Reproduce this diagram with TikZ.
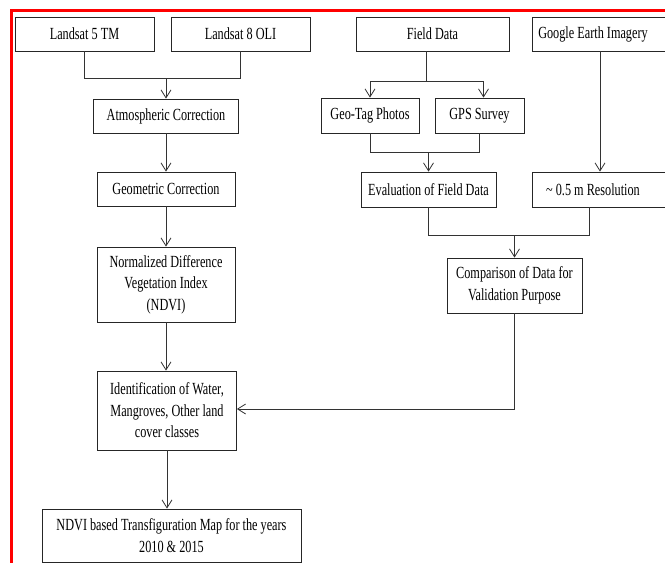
\documentclass[tikz,border=0pt]{standalone}
\usepackage{fontspec}
\setmainfont{Liberation Serif}[FakeStretch=0.72]
\usepackage{tikz}
\usetikzlibrary{shapes.geometric, arrows, arrows.meta}
\usetikzlibrary{positioning}
\tikzstyle{box} = [rectangle, minimum height=34pt, text centered, align=center, draw=black!85, line width=0.8pt, inner sep=2pt, font=\fontsize{17}{21.5}\selectfont]
\tikzstyle{arrow} = [line width=0.8pt, draw=black!80, ->, >={Straight Barb[length=8pt, width=10pt, line width=0.8pt]}]
\tikzstyle{link} = [line width=0.8pt, draw=black!80, -]
\begin{document}
\begin{tikzpicture}[x=1pt, y=1pt, node distance=80pt]
\useasboundingbox (0,0) rectangle (665,-563);
\draw [red, line width=3pt] (11.5,-570) -- (11.5,-10.5) -- (670,-10.5);
% satellite data
\node (l5) [box, minimum width=139pt] at (84.5,-34) {Landsat 5 TM};
\node (l8) [box, minimum width=139pt, node distance=156pt, right of=l5] {Landsat 8 OLI};
\node (atmos) [box, minimum width=145pt, node distance=82pt, below of=l5, xshift=81.5pt] {Atmospheric Correction};
\node (geom) [box, minimum width=138pt, node distance=73pt, below of=atmos] {Geometric Correction};
\node (ndvi) [box, minimum width=138pt, minimum height=75pt, node distance=95.5pt, below of=geom] {Normalized Difference\\Vegetation Index\\(NDVI)};
\node (ident) [box, minimum width=139pt, minimum height=79pt, node distance=126pt, below of=ndvi, xshift=1pt] {Identification of Water,\\Mangroves, Other land\\cover classes};
\node (map) [box, minimum width=259pt, minimum height=53pt, node distance=125pt, below of=ident, xshift=4.5pt] {NDVI based Transfiguration Map for the years\\2010 \& 2015};
% reference data
\node (field) [box, minimum width=153pt] at (432.5,-34) {Field Data};
\node (google) [box, minimum width=136pt, node distance=167.5pt, right of=field] {Google Earth Imagery\hspace{14pt}};
\node (geotag) [box, minimum width=98pt, minimum height=35pt, node distance=81.5pt, below of=field, xshift=-62.5pt] {Geo-Tag Photos};
\node (gps) [box, minimum width=89pt, minimum height=35pt, node distance=81.5pt, below of=field, xshift=47pt] {GPS Survey};
\node (eval) [box, minimum width=135pt, minimum height=35pt, node distance=155.5pt, below of=field, xshift=-4pt] {Evaluation of Field Data};
\node (resol) [box, minimum width=136pt, minimum height=35pt, node distance=155.5pt, below of=google] {\textasciitilde\ 0.5 m Resolution\hspace{14pt}};
\node (comp) [box, minimum width=135pt, minimum height=55pt, node distance=96pt, below of=eval, xshift=86pt] {Comparison of Data for\\Validation Purpose};
% junctions
\coordinate (j1) at ([yshift=20pt]atmos.north);
\coordinate (j2) at ([xshift=-6pt, yshift=-30pt]field.south);
\coordinate (j3) at ([yshift=19pt]eval.north);
\coordinate (j4) at ([yshift=22pt]comp.north);
% connectors
\draw [link] (l5) |- (j1) -| (l8);
\draw [arrow] (j1) -- (atmos);
\draw [arrow] (atmos) -- (geom);
\draw [arrow] (geom) -- (ndvi);
\draw [arrow] (ndvi.south) -- (ndvi.south |- ident.north);
\draw [arrow] (ident.south) -- (ident.south |- map.north);
\draw [link] (field.south -| j2) -- (j2);
\draw [arrow] (j2) -| (geotag);
\draw [arrow] (j2) -| ([xshift=4pt]gps.north);
\draw [link] (geotag) |- (j3) -| (gps);
\draw [arrow] (j3) -- (j3 |- eval.north);
\draw [arrow] (google) -- (resol);
\draw [link] (eval) |- (j4) -| ([xshift=-11pt]resol.south);
\draw [arrow] (j4) -- (j4 |- comp.north);
\draw [arrow] (comp.south) |- ([yshift=1.5pt]ident.east);
\end{tikzpicture}
\end{document}
